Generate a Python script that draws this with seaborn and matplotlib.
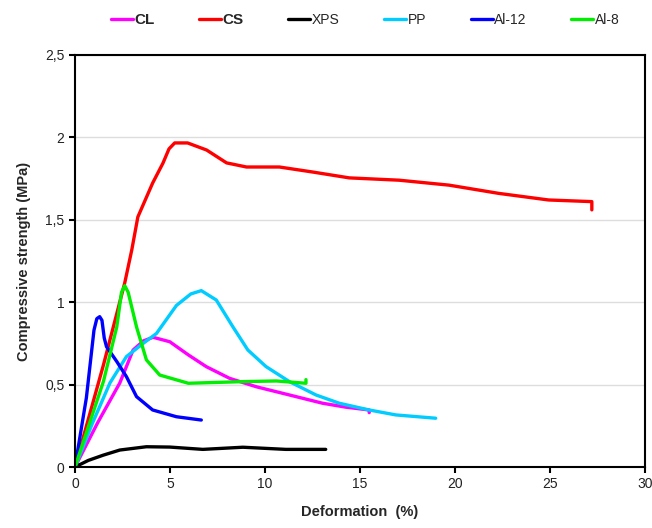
import pandas as pd
import numpy as np
import matplotlib.pyplot as plt
import seaborn as sns
from matplotlib.ticker import FuncFormatter

# curves (deformation %, compressive strength MPa)
cl_x = [0, 1.2, 2.36, 3.06, 3.6, 4.11, 4.99, 5.97, 6.91, 8.14, 9.54, 11.29, 13.03,
        14.26, 15.49, 15.49]
cl_y = [0, 0.27, 0.51, 0.71, 0.765, 0.787, 0.76, 0.68, 0.609, 0.538, 0.487, 0.437,
        0.387, 0.363, 0.346, 0.33]

cs_x = [0, 1.5, 2.62, 2.99, 3.31, 4.09, 4.63, 4.95, 5.25, 5.93, 6.93, 7.98, 9.03,
        10.76, 12.49, 14.44, 17.06, 19.69, 22.31, 24.93, 27.21, 27.21]
cs_y = [0, 0.62, 1.117, 1.317, 1.517, 1.723, 1.843, 1.93, 1.966, 1.966, 1.923,
        1.845, 1.82, 1.82, 1.79, 1.754, 1.74, 1.71, 1.66, 1.62, 1.61, 1.56]

xps_x = [0, 0.7, 1.49, 2.36, 3.76, 4.99, 6.73, 8.84, 11.1, 13.2]
xps_y = [0, 0.04, 0.072, 0.103, 0.123, 0.121, 0.107, 0.12, 0.107, 0.107]

pp_x = [0, 0.9, 1.84, 2.71, 3.59, 4.29, 5.34, 6.1, 6.65, 7.44, 8.31, 9.1, 10.06,
        11.29, 12.69, 13.91, 15.49, 16.89, 18.99]
pp_y = [0, 0.26, 0.51, 0.67, 0.75, 0.81, 0.98, 1.05, 1.07, 1.013, 0.851, 0.71,
        0.609, 0.518, 0.437, 0.387, 0.346, 0.316, 0.296]

al12_x = [0, 0.6, 1.0, 1.15, 1.3, 1.42, 1.54, 1.66, 2.2, 2.71, 3.24, 4.09, 5.34, 6.65]
al12_y = [0, 0.42, 0.83, 0.9, 0.912, 0.89, 0.783, 0.73, 0.64, 0.548, 0.427, 0.346,
          0.305, 0.285]

al8_x = [0, 1.5, 2.2, 2.45, 2.62, 2.8, 3.24, 3.76, 4.46, 5.97, 8.84, 10.6, 12.16,
         12.16]
al8_y = [0, 0.52, 0.85, 1.06, 1.10, 1.06, 0.85, 0.65, 0.558, 0.508, 0.518, 0.522,
         0.508, 0.53]

names = ["CL", "CS", "XPS", "PP", "Al-12", "Al-8"]
colors = ["#ff00ff", "#ff0000", "#000000", "#00ccff", "#0000ff", "#00ee00"]
series = [(cl_x, cl_y), (cs_x, cs_y), (xps_x, xps_y), (pp_x, pp_y),
          (al12_x, al12_y), (al8_x, al8_y)]

frames = []
for name, (xs, ys) in zip(names, series):
    frames.append(pd.DataFrame({"x": xs, "y": ys, "material": name}))
df = pd.concat(frames, ignore_index=True)

sns.set_style("white")
plt.rcParams["font.family"] = ["Liberation Sans", "DejaVu Sans"]

fig = plt.figure(figsize=(6.52, 5.28), dpi=100)
ax = fig.add_axes([0.115, 0.1155, 0.874, 0.7805])

# estimator=None so repeated x values (vertical end ticks) are kept
for name, c in zip(names, colors):
    sub = df[df["material"] == name]
    sns.lineplot(x=sub["x"].values, y=sub["y"].values, sort=False, estimator=None,
                 color=c, linewidth=2.4, ax=ax, label=name)

ax.set_xlim(0, 30)
ax.set_ylim(0, 2.5)
ax.set_xticks(np.arange(0, 31, 5))
ax.set_yticks(np.arange(0, 2.51, 0.5))
ax.yaxis.set_major_formatter(FuncFormatter(lambda v, p: f"{v:g}".replace(".", ",")))
ax.grid(axis="y", color="#dddddd", linewidth=1)
ax.set_axisbelow(True)
for s in ax.spines.values():
    s.set_color("black")
    s.set_linewidth(1.5)
ax.tick_params(axis="both", direction="out", length=4, width=1.5, color="black",
               labelsize=10, labelcolor="#222222", bottom=True, left=True)
ax.set_xlabel("Deformation  (%)", fontsize=10.5, fontweight="bold", labelpad=10)
ax.set_ylabel("Compressive strength (MPa)", fontsize=10.5, fontweight="bold", labelpad=10)

leg = fig.legend(*ax.get_legend_handles_labels(), loc="upper center",
                 bbox_to_anchor=(0.56, 1.0), ncol=6, frameon=False, fontsize=10,
                 handlelength=1.6, handletextpad=0.1, columnspacing=3.2)
ax.get_legend().remove()
for t in leg.get_texts()[:2]:
    t.set_fontweight("bold")
    t.set_fontsize(11)

fig.savefig("out.png", dpi=100)
